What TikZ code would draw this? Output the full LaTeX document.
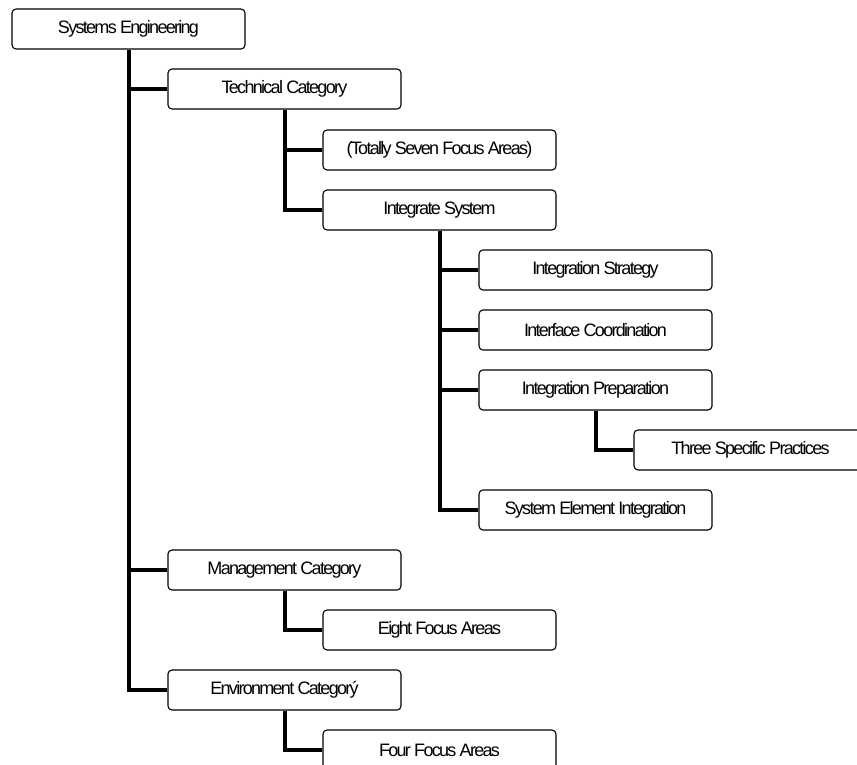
\documentclass[tikz,border=0pt]{standalone}
\usepackage{fontspec}
\setmainfont{Liberation Sans}[LetterSpace=-9.5]
\begin{document}
\begin{tikzpicture}[x=1pt,y=-1pt,
  box/.style={draw=black,line width=1.1pt,rounded corners=4pt,minimum width=233pt,minimum height=40pt,inner sep=0pt,
    font=\fontsize{18}{21}\selectfont,fill=white},
  conn/.style={draw=black,line width=4pt}]
\useasboundingbox (0,0) rectangle (857,765);
\clip (0,0) rectangle (857,765);
\node[box] (se)   at (128.5,29)  {Systems Engineering};
\node[box] (tc)   at (284.5,89)  {Technical Category};
\node[box] (tsfa) at (439.5,150) {(Totally Seven Focus Areas)};
\node[box] (is)   at (439.5,210) {Integrate System};
\node[box] (ist)  at (595.5,270) {Integration Strategy};
\node[box] (ic)   at (595.5,330) {Interface Coordination};
\node[box] (ip)   at (595.5,390) {Integration Preparation};
\node[box] (tsp)  at (750.5,450) {Three Specific Practices};
\node[box] (sei)  at (595.5,510) {System Element Integration};
\node[box] (mc)   at (284.5,570) {Management Category};
\node[box] (efa)  at (439.5,630) {Eight Focus Areas};
\node[box] (ec)   at (284.5,690) {Environment Categorý};
\node[box] (ffa)  at (439.5,750) {Four Focus Areas};
\draw[conn] (se.south) |- (tc.west);
\draw[conn] (se.south) |- (mc.west);
\draw[conn] (se.south) |- (ec.west);
\draw[conn] (tc.south) |- (tsfa.west);
\draw[conn] (tc.south) |- (is.west);
\draw[conn] (is.south) |- (ist.west);
\draw[conn] (is.south) |- (ic.west);
\draw[conn] (is.south) |- (ip.west);
\draw[conn] (is.south) |- (sei.west);
\draw[conn] (ip.south) |- (tsp.west);
\draw[conn] (mc.south) |- (efa.west);
\draw[conn] (ec.south) |- (ffa.west);
\end{tikzpicture}
\end{document}
